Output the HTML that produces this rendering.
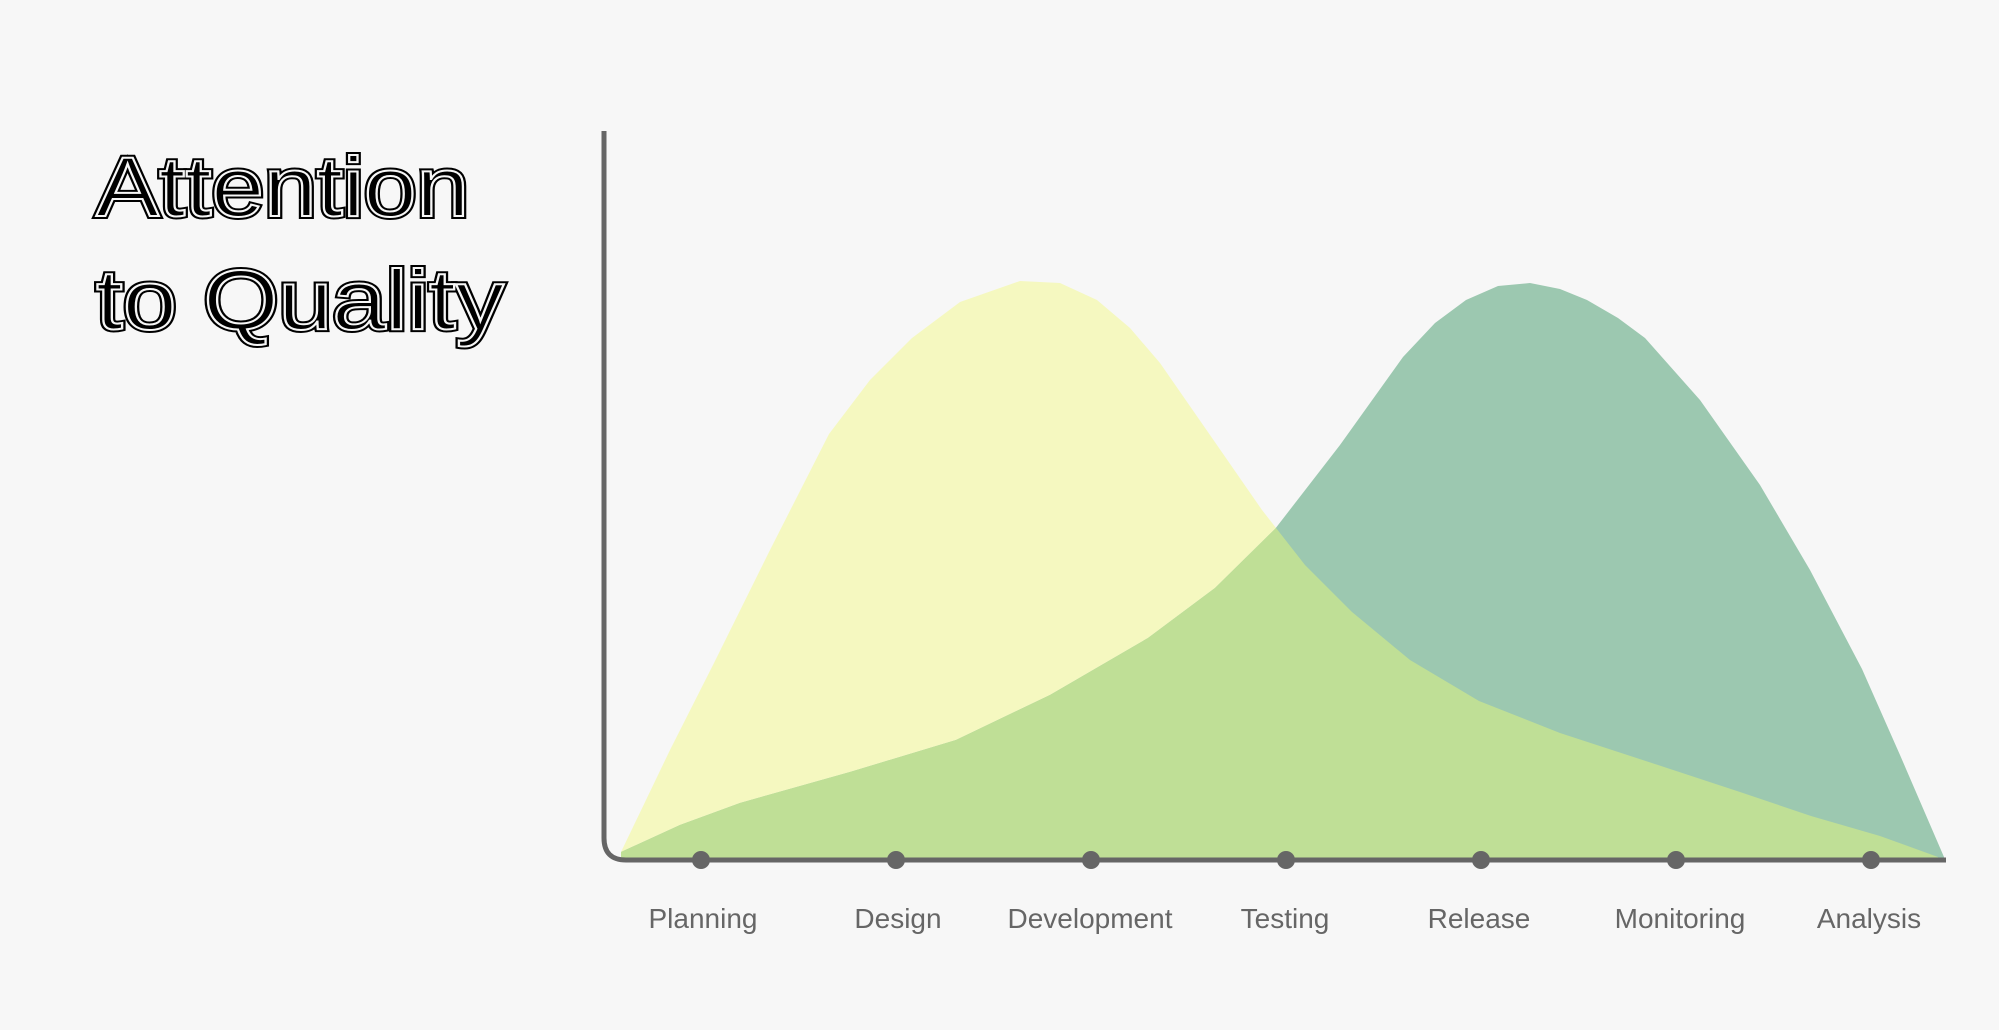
<!DOCTYPE html>
<html><head><meta charset="utf-8"><style>
html,body{margin:0;padding:0;background:#f7f7f7;}
svg{display:block;}
</style></head><body>
<svg width="1999" height="1030" viewBox="0 0 1999 1030" xmlns="http://www.w3.org/2000/svg">
<rect width="1999" height="1030" fill="#f7f7f7"/>
<defs>
<path id="yel" d="M621,858 L621,852 L670,750 L714,663 L770,550 L829,434 L870,380 L912,338 L960,302 L1020,281 L1060,283 L1097,300 L1130,328 L1160,363 L1210,435 L1262,510 L1305,565 L1352,612 L1410,660 L1479,701 L1560,733 L1658,765 L1740,792 L1811,816 L1880,836 L1938,857 L1938,858 Z"/>
<path id="grn" d="M621,858 L621,852 L680,825 L740,803 L850,772 L956,740 L1050,695 L1148,638 L1215,588 L1275,529 L1340,445 L1403,357 L1435,323 L1466,300 L1498,286 L1530,283 L1560,289 L1587,300 L1618,318 L1645,338 L1700,400 L1760,485 L1810,570 L1862,669 L1900,755 L1944,857 L1944,858 Z"/>
<clipPath id="yc"><use href="#yel"/></clipPath>
</defs>
<use href="#yel" fill="#f5f8c0"/>
<use href="#grn" fill="#9cc8b0"/>
<use href="#grn" fill="#bfdf96" clip-path="url(#yc)"/>
<path d="M604,131 L604,838 Q604,860 626,860 L1946,860" fill="none" stroke="#666" stroke-width="5"/>
<g fill="#666">
<circle cx="701" cy="860" r="9"/><circle cx="896" cy="860" r="9"/><circle cx="1091" cy="860" r="9"/>
<circle cx="1286" cy="860" r="9"/><circle cx="1481" cy="860" r="9"/><circle cx="1676" cy="860" r="9"/>
<circle cx="1871" cy="860" r="9"/>
</g>
<g font-family="Liberation Sans, sans-serif" font-size="28" fill="#666" text-anchor="middle">
<text x="703" y="928">Planning</text>
<text x="898" y="928">Design</text>
<text x="1090" y="928">Development</text>
<text x="1285" y="928">Testing</text>
<text x="1479" y="928">Release</text>
<text x="1680" y="928">Monitoring</text>
<text x="1869" y="928">Analysis</text>
</g>
<g font-family="Liberation Sans, sans-serif" font-size="84">
<text x="96" y="216" fill="#000" stroke="#000" stroke-width="6" textLength="373" lengthAdjust="spacingAndGlyphs">Attention</text>
<text x="96" y="216" fill="none" stroke="#f7f7f7" stroke-width="2" textLength="373" lengthAdjust="spacingAndGlyphs">Attention</text>
<text x="96" y="329" fill="#000" stroke="#000" stroke-width="6" textLength="408" lengthAdjust="spacingAndGlyphs">to Quality</text>
<text x="96" y="329" fill="none" stroke="#f7f7f7" stroke-width="2" textLength="408" lengthAdjust="spacingAndGlyphs">to Quality</text>
</g>
</svg>
</body></html>
